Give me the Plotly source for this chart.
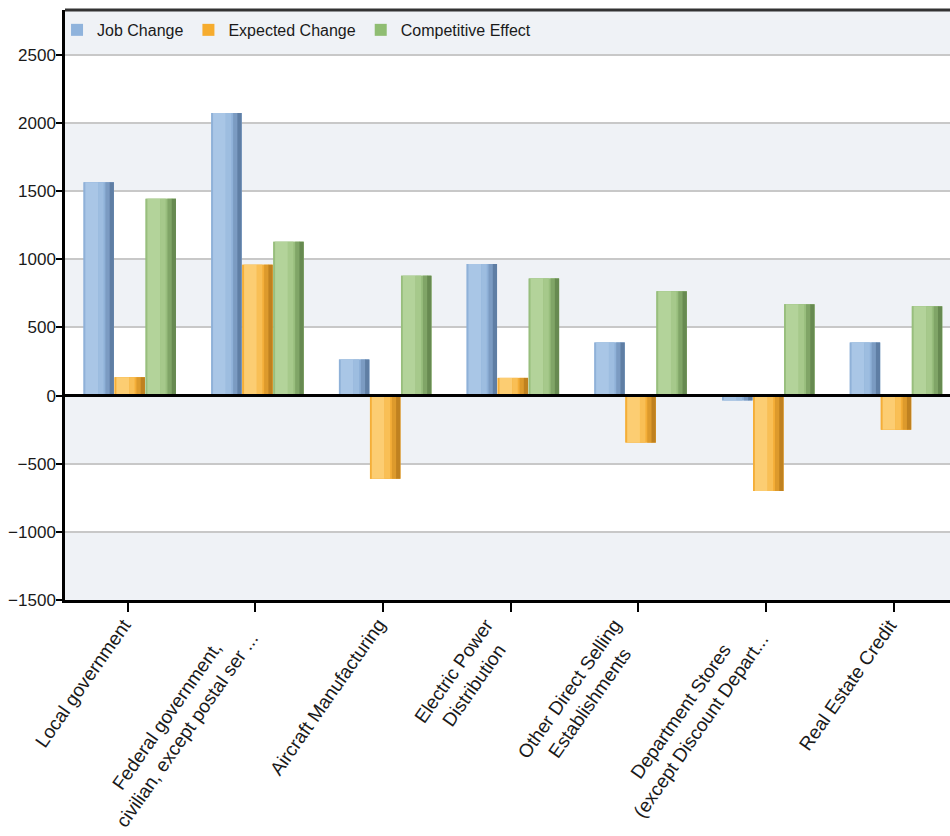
import plotly.graph_objects as go

# Industry categories (line breaks as shown on the axis)
categories = [
    "Local government",
    "Federal government,<br>civilian, except postal ser ...",
    "Aircraft Manufacturing",
    "Electric Power<br>Distribution",
    "Other Direct Selling<br>Establishments",
    "Department Stores<br>(except Discount Depart...",
    "Real Estate Credit",
]

job_change = [1565, 2075, 265, 965, 390, -35, 390]
expected_change = [135, 960, -610, 130, -345, -700, -250]
competitive_effect = [1445, 1130, 880, 860, 765, 670, 655]

series_names = ["Job Change", "Expected Change", "Competitive Effect"]
series_values = [job_change, expected_change, competitive_effect]

y_ticks = [-1500, -1000, -500, 0, 500, 1000, 1500, 2000, 2500]

# shading strips per series: (start fraction, width fraction, colour)
shading = [
    [(0.0, 1.0, "#8fb1d8"), (0.06, 0.42, "#a9c6e6"), (0.48, 0.18, "#9dbde0"),
     (0.72, 0.16, "#7b9bc2"), (0.86, 0.14, "#5f7ea4")],
    [(0.0, 1.0, "#f4ae38"), (0.06, 0.42, "#fccd72"), (0.48, 0.18, "#f9bf55"),
     (0.72, 0.16, "#dd9a2c"), (0.86, 0.14, "#bf8120")],
    [(0.0, 1.0, "#98be7d"), (0.06, 0.42, "#b3d39a"), (0.48, 0.18, "#a6c98b"),
     (0.72, 0.16, "#80a567"), (0.86, 0.14, "#678a51")],
]
legend_colors = ["#8fb3dc", "#f6ac2e", "#8fbd72"]

FONT = "Liberation Sans, Arial, Helvetica, sans-serif"

bar_w = 0.238
step = 0.243
start = -0.345

fig = go.Figure()

for k, (name, vals) in enumerate(zip(series_names, series_values)):
    off = start + k * step
    for j, (f0, fw, col) in enumerate(shading[k]):
        fig.add_trace(go.Bar(
            x=categories, y=vals, name=name, legendgroup=name,
            marker=dict(color=legend_colors[k] if j == 0 else col, line=dict(width=0)),
            offset=off + bar_w * f0, width=bar_w * fw,
            showlegend=(j == 0),
            hoverinfo="skip" if j else None,
        ))
        if j == 0:
            # repaint the body in its shaded base colour (legend keeps the flat swatch)
            fig.add_trace(go.Bar(
                x=categories, y=vals, name=name, legendgroup=name,
                marker=dict(color=col, line=dict(width=0)),
                offset=off, width=bar_w, showlegend=False, hoverinfo="skip",
            ))

Y_MIN, Y_MAX = -1500, 2830

shapes = []
# alternating horizontal bands
band_edges = [-1500, -1000, -500, 0, 500, 1000, 1500, 2000, 2500, Y_MAX]
for i in range(len(band_edges) - 1):
    if i % 2 == 0:
        shapes.append(dict(type="rect", xref="paper", yref="y",
                           x0=0, x1=1, y0=band_edges[i], y1=band_edges[i + 1],
                           fillcolor="#eff2f6", line=dict(width=0), layer="below"))
# zero line on top of bars
shapes.append(dict(type="line", xref="paper", yref="y", x0=0, x1=1, y0=0, y1=0,
                   line=dict(color="#000000", width=3), layer="above"))
# top border of the plot frame
shapes.append(dict(type="line", xref="paper", yref="paper", x0=0, x1=1, y0=1, y1=1,
                   line=dict(color="#333333", width=3), layer="above"))

# rotated category labels
annotations = []
for c in categories:
    annotations.append(dict(
        x=c, xref="x", y=0, yref="paper", yshift=-12, xshift=10,
        text=c, showarrow=False, textangle=-55, align="center",
        xanchor="right", yanchor="top",
        font=dict(family=FONT, size=19, color="#1a1a1a"),
    ))

fig.update_layout(
    width=950, height=836,
    margin=dict(l=65, r=0, t=10, b=236, autoexpand=False),
    paper_bgcolor="#ffffff", plot_bgcolor="#ffffff",
    barmode="overlay",
    font=dict(family=FONT, size=16, color="#1a1a1a"),
    showlegend=True,
    legend=dict(orientation="h", x=-0.009, y=0.995, xanchor="left", yanchor="top",
                bgcolor="rgba(0,0,0,0)", font=dict(family=FONT, size=16, color="#1a1a1a"),
                traceorder="normal"),
    shapes=shapes,
    annotations=annotations,
    xaxis=dict(
        type="category", range=[-0.49, 6.44], showgrid=False, automargin=False,
        showticklabels=False, ticks="outside", ticklen=9, tickwidth=1.5,
        tickcolor="#000000", showline=True, linecolor="#000000", linewidth=3,
        zeroline=False,
    ),
    yaxis=dict(
        range=[Y_MIN, Y_MAX], tickvals=y_ticks, ticks="outside", ticklen=6,
        tickwidth=1.5, tickcolor="#000000", showline=True, linecolor="#000000",
        linewidth=2.5, showgrid=True, gridcolor="#c8c8c8", gridwidth=2,
        zeroline=False, automargin=False, ticklabelstandoff=-3,
        tickfont=dict(family=FONT, size=17, color="#1a1a1a"),
    ),
)

fig.write_html("out.html")
